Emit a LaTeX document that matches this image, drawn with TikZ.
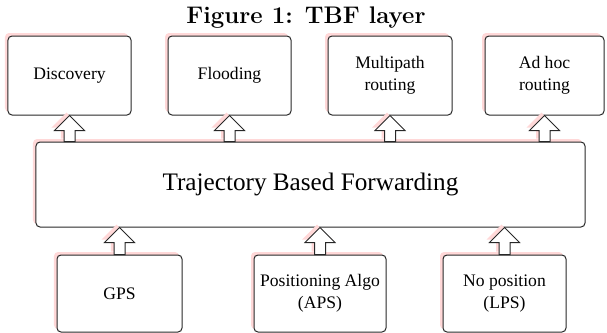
\documentclass[tikz,border=0pt]{standalone}
\usepackage{fontspec}
\newfontfamily\boxfont{Liberation Serif}
\usetikzlibrary{shadows,calc}
\definecolor{shadowpink}{RGB}{255,216,216}
\definecolor{edge}{RGB}{40,40,40}

\newcommand{\blockarrow}[2]{%
  \draw[blockarr] let \p1=(#1), \p2=(#2) in
    (\x1-2.75pt,\y1)--(\x1-2.75pt,\y2-7.5pt)--(\x1-7.5pt,\y2-7.5pt)--(\x1,\y2)
    --(\x1+7.5pt,\y2-7.5pt)--(\x1+2.75pt,\y2-7.5pt)--(\x1+2.75pt,\y1)--cycle;}

\begin{document}
\begin{tikzpicture}[x=0.5pt,y=-0.5pt,
    pinkshadow/.style={drop shadow={shadow xshift=-1.5pt,shadow yshift=1.5pt,fill=shadowpink,opacity=1}},
    box/.style={draw=edge,line width=0.5pt,fill=white,rounded corners=2pt,pinkshadow,
      align=center,inner sep=0pt,font=\boxfont\fontsize{8.8}{10.8}\selectfont},
    blockarr/.style={draw=edge,line width=0.5pt,fill=white,pinkshadow}]
  \def\bw{61.5pt};
  \def\bh{39.5pt};
  \useasboundingbox (0,0) rectangle (607,333);

  \node[font=\bfseries\fontsize{12}{14}\selectfont,anchor=base] (title) at (306,23.5) {Figure 1: TBF layer};

  \node[box,minimum width=\bw,minimum height=\bh] (disc) at (69.5,75.5) {Discovery};
  \node[box,minimum width=\bw,minimum height=\bh] (flood) at (229.5,75.5) {Flooding};
  \node[box,minimum width=62pt,minimum height=\bh] (multi) at (390,75.5) {Multipath\\routing};
  \node[box,minimum width=59.5pt,minimum height=\bh] (adhoc) at (544.5,75.5) {Ad hoc\\routing};

  \node[box,minimum width=274.5pt,minimum height=42.5pt,
    font=\boxfont\fontsize{12.6}{15}\selectfont] (tbf) at (310.5,184.5) {Trajectory Based Forwarding};

  \node[box,minimum width=62.5pt,minimum height=38.5pt] (gps) at (119.5,293.5) {GPS};
  \node[box,minimum width=66pt,minimum height=38.5pt] (posalgo) at (320,293.5) {Positioning Algo\\(APS)};
  \node[box,minimum width=\bw,minimum height=38.5pt] (nopos) at (504.5,293.5) {No position\\(LPS)};

  \blockarrow{tbf.north -| disc.south}{disc.south}
  \blockarrow{tbf.north -| flood.south}{flood.south}
  \blockarrow{tbf.north -| multi.south}{multi.south}
  \blockarrow{tbf.north -| adhoc.south}{adhoc.south}

  \blockarrow{gps.north}{gps.north |- tbf.south}
  \blockarrow{posalgo.north}{posalgo.north |- tbf.south}
  \blockarrow{nopos.north}{nopos.north |- tbf.south}
\end{tikzpicture}
\end{document}
